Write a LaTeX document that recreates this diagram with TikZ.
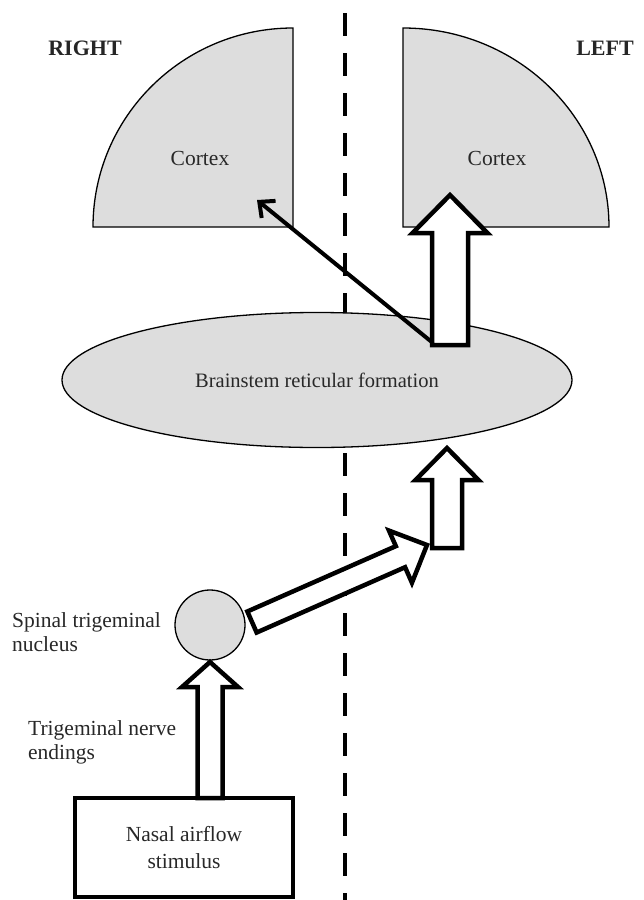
\documentclass[tikz,border=0pt]{standalone}
\usepackage{fontspec}
\setmainfont{Liberation Serif}
\usetikzlibrary{shapes.geometric,arrows.meta,calc}
\definecolor{fillg}{RGB}{221,221,221}
\definecolor{txt}{RGB}{40,40,40}
\tikzset{
  ctx/.style={draw=black, line width=1.3pt, fill=fillg},
  barrow/.style={draw=black, fill=white, line width=4.5pt, line join=miter},
  lbl/.style={text=txt, font=\fontsize{21.5}{24}\selectfont, inner sep=0pt},
  side/.style={text=black!85, font=\fontsize{22}{24}\selectfont\bfseries, inner sep=0pt},
}
\newcommand{\blockarr}[5]{%
  \coordinate (tmpC) at ($(#2)!#5!(#1)$);
  \draw[barrow] ($(#1)!#3!90:(#2)$) -- ($(tmpC)!#3!90:(#2)$) -- ($(tmpC)!#4!90:(#2)$) -- (#2)
    -- ($(tmpC)!#4!-90:(#2)$) -- ($(tmpC)!#3!-90:(#2)$) -- ($(#1)!#3!-90:(#2)$) -- cycle;}
\begin{document}
\begin{tikzpicture}[x=1pt,y=-1pt]
\useasboundingbox (0,0) rectangle (644,900);
\fill[white] (0,0) rectangle (644,900);
% cortices
\draw[ctx] (293,227) -- (93,227) arc[start angle=180, end angle=270, x radius=200, y radius=199] -- cycle;
\draw[ctx] (403,227) -- (403,28) arc[start angle=270, end angle=360, x radius=206, y radius=199] -- cycle;
\node[lbl] (cR) at (200,158) {Cortex};
\node[lbl] (cL) at (497,158) {Cortex};
\node[side] (right) at (85,48) {RIGHT};
\node[side] (left) at (605,48) {LEFT};
% midline
\coordinate (mtop) at (345,13);
\coordinate (mbot) at (345,905);
\draw[line width=4.5pt, dash pattern=on 23pt off 17pt] (mtop) -- (mbot);
% brainstem
\node[ellipse, draw=black, line width=1.3pt, fill=fillg, minimum width=510pt, minimum height=135pt, inner sep=0pt,
      text=txt, font=\fontsize{20.5}{24}\selectfont] (bs) at (317,380) {Brainstem reticular formation};
% thin arrow to right cortex
\coordinate (t1s) at (433,343);
\coordinate (t1e) at (257,200);
\draw[line width=4pt, -{Straight Barb[length=12pt,width=22pt]}] (t1s) -- (t1e);
% block arrow brainstem -> left cortex
\coordinate (a1s) at (450,345);
\coordinate (a1e) at (450,195);
\blockarr{a1s}{a1e}{18pt}{37.5pt}{38pt}
% circle
\node[circle, draw=black, line width=1.3pt, fill=fillg, minimum size=70pt, inner sep=0pt] (stn) at (210,625) {};
% diagonal arrow
\coordinate (a2s) at (252,622);
\coordinate (a2e) at (427,545);
\blockarr{a2s}{a2e}{11.5pt}{28.5pt}{29pt}
% up arrow to brainstem
\coordinate (a3s) at (447,548);
\coordinate (a3e) at (447,448);
\blockarr{a3s}{a3e}{15pt}{31.5pt}{32pt}
% box
\node[rectangle, draw=black, line width=4.5pt, fill=white, minimum width=218pt, minimum height=99pt, inner sep=0pt,
      text=txt, font=\fontsize{21.5}{27}\selectfont, align=center] (box) at (184,847.5) {Nasal airflow\\stimulus};
% arrow box -> circle
\coordinate (a4s) at (210,798);
\coordinate (a4e) at (210,662);
\blockarr{a4s}{a4e}{12.5pt}{28pt}{25pt}
% side labels
\node[lbl, anchor=west, align=left] (stnl) at (12,632) {Spinal trigeminal\\nucleus};
\node[lbl, anchor=west, align=left] (tnl) at (28,742) {Trigeminal nerve\\endings};
\end{tikzpicture}
\end{document}
